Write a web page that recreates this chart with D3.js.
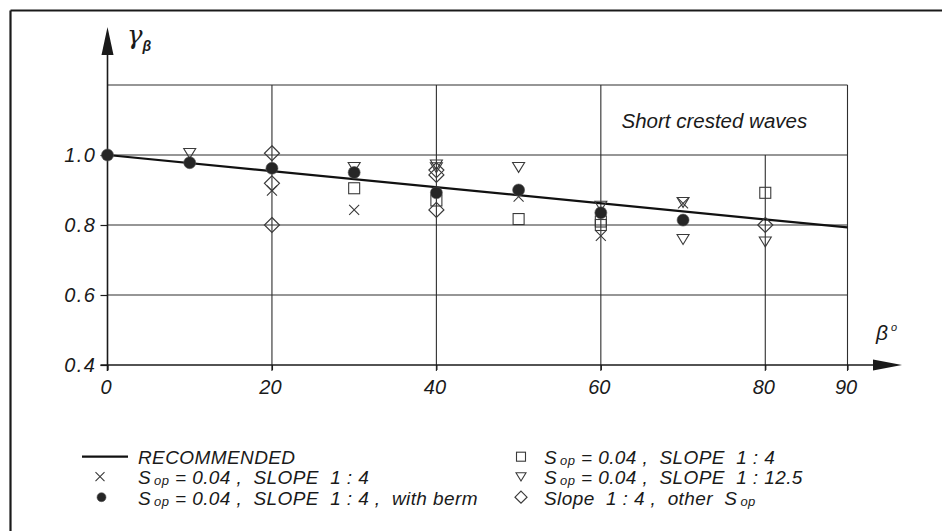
<!DOCTYPE html>
<html><head><meta charset="utf-8">
<script src="https://cdn.jsdelivr.net/npm/d3@7"></script>
<style>
html,body{margin:0;padding:0;background:#fff;}
svg text{font-family:"Liberation Sans",Arial,sans-serif;font-style:italic;fill:#1a1a1a;white-space:pre;}
</style></head>
<body>
<svg id="c" width="942" height="531"></svg>
<script>
// ---- data ----
const xTicks = [0, 20, 40, 60, 80, 90];
const yTicks = [0.4, 0.6, 0.8, 1.0];
const yTickLabels = ["0.4", "0.6", "0.8", "1.0"];
const recommended = [[0, 1.0], [90, 0.793]];
const crossPts = [[20, 0.898], [30, 0.843], [50, 0.881], [60, 0.769], [70, 0.862]];
const bermPts = [[0, 1.0], [10, 0.978], [20, 0.962], [30, 0.95], [40, 0.892], [50, 0.90], [60, 0.835], [70, 0.814]];
const squarePts = [[30, 0.905], [40, 0.87], [50, 0.817], [60, 0.81], [60, 0.80], [80, 0.892]];
const trianglePts = [[10, 1.005], [30, 0.965], [40, 0.972], [40, 0.964], [50, 0.965], [60, 0.854], [70, 0.865], [70, 0.759], [80, 0.752]];
const diamondPts = [[20, 1.005], [20, 0.919], [20, 0.80], [40, 0.957], [40, 0.943], [40, 0.843], [80, 0.80]];
const boxLabel = "Short crested waves";
const legendLeft = [
  [["RECOMMENDED"]],
  [["S"], ["op", 1], [" = 0.04 ,  SLOPE  1 : 4"]],
  [["S"], ["op", 1], [" = 0.04 ,  SLOPE  1 : 4 ,  with berm"]]
];
const legendRight = [
  [["S"], ["op", 1], [" = 0.04 ,  SLOPE  1 : 4"]],
  [["S"], ["op", 1], [" = 0.04 ,  SLOPE  1 : 12.5"]],
  [["Slope  1 : 4 ,  other  S"], ["op", 1]]
];

// ---- drawing ----
const svg = d3.select("#c");
const x = d3.scaleLinear().domain([0, 90]).range([107.5, 847.5]);
const y = d3.scaleLinear().domain([0.4, 1.2]).range([365, 85]);
const ink = "#1a1a1a", grid = "#2e2e2e";

// frame (top and left only)
svg.append("line").attr("x1", 10.5).attr("x2", 942).attr("y1", 10.5).attr("y2", 10.5).attr("stroke", ink).attr("stroke-width", 2.2);
svg.append("line").attr("x1", 10.5).attr("x2", 10.5).attr("y1", 10.5).attr("y2", 531).attr("stroke", ink).attr("stroke-width", 2.2);

const g = svg.append("g");
[0.6, 0.8, 1.0, 1.2].forEach(v => {
  g.append("line").attr("x1", x(0)).attr("x2", x(90)).attr("y1", y(v)).attr("y2", y(v))
    .attr("stroke", grid).attr("stroke-width", 1.1);
});
[20, 40, 60, 80, 90].forEach(v => {
  g.append("line").attr("x1", x(v)).attr("x2", x(v))
    .attr("y1", v === 80 ? y(1.0) : y(1.2)).attr("y2", y(0.4) + 6)
    .attr("stroke", grid).attr("stroke-width", 1.1);
});

// axes
const xAxis = d3.axisBottom(x).tickValues(xTicks).tickSize(5).tickPadding(12).tickFormat(d3.format("d"));
const xa = svg.append("g").attr("transform", `translate(0,${y(0.4)})`).call(xAxis);
xa.select(".domain").remove();
xa.selectAll(".tick line").attr("stroke", ink).attr("stroke-width", 1.2);
xa.selectAll(".tick text").attr("font-size", 20).attr("fill", ink).attr("dx", -2).attr("dy", "0.6em")
  .style("font-family", '"Liberation Sans",Arial,sans-serif').style("font-style", "italic");

const yAxis = d3.axisLeft(y).tickValues(yTicks).tickSize(7).tickPadding(4).tickFormat((d, i) => yTickLabels[i]);
const ya = svg.append("g").attr("transform", `translate(${x(0)},0)`).call(yAxis);
ya.select(".domain").remove();
ya.selectAll(".tick line").attr("stroke", ink).attr("stroke-width", 1.2);
ya.selectAll(".tick text").attr("font-size", 20).attr("fill", ink).attr("letter-spacing", 1.5)
  .style("font-family", '"Liberation Sans",Arial,sans-serif').style("font-style", "italic");

// main axis lines with arrows
svg.append("line").attr("x1", x(0) - 7).attr("x2", 880).attr("y1", y(0.4)).attr("y2", y(0.4)).attr("stroke", ink).attr("stroke-width", 1.6);
svg.append("path").attr("d", `M873,${y(0.4) - 5.5}L902,${y(0.4)}L873,${y(0.4) + 5.5}Z`).attr("fill", ink);
svg.append("line").attr("x1", x(0)).attr("x2", x(0)).attr("y1", y(0.4) + 6).attr("y2", 50).attr("stroke", ink).attr("stroke-width", 1.6);
svg.append("path").attr("d", `M${x(0) - 6},55L${x(0)},27L${x(0) + 6},55Z`).attr("fill", ink);

// axis titles
const yt = svg.append("text").attr("x", 127).attr("y", 44);
yt.append("tspan").text("γ").attr("font-size", 26).style("font-family", '"DejaVu Serif","Liberation Serif",serif');
yt.append("tspan").text("β").attr("font-size", 14).attr("font-weight", "bold").attr("dy", 7).attr("dx", 0);
const xt = svg.append("text").attr("x", 876).attr("y", 340);
xt.append("tspan").text("β").attr("font-size", 21);
xt.append("tspan").text("o").attr("font-size", 11).attr("dy", -9).attr("dx", 3);

// label box text
svg.append("text").attr("x", 621.5).attr("y", 127.5).attr("font-size", 20.5).text(boxLabel);

// recommended line
svg.append("path").datum(recommended)
  .attr("d", d3.line().x(d => x(d[0])).y(d => y(d[1])))
  .attr("stroke", "#111").attr("stroke-width", 2.2).attr("fill", "none");

// markers
const mk = "#3a3a3a";
function cross(sel, s) {
  sel.append("path").attr("d", `M${-s},${-s}L${s},${s}M${-s},${s}L${s},${-s}`).attr("stroke", mk).attr("stroke-width", 1.1).attr("fill", "none");
}
function square(sel, s) {
  sel.append("rect").attr("x", -s).attr("y", -s).attr("width", 2 * s).attr("height", 2 * s).attr("stroke", mk).attr("stroke-width", 1.1).attr("fill", "none");
}
function tri(sel, s) {
  sel.append("path").attr("d", `M${-s},${-s * 0.8}L${s},${-s * 0.8}L0,${s * 0.85}Z`).attr("stroke", mk).attr("stroke-width", 1.1).attr("fill", "none");
}
function diamond(sel, s) {
  sel.append("path").attr("d", `M0,${-s}L${s},0L0,${s}L${-s},0Z`).attr("stroke", mk).attr("stroke-width", 1.2).attr("fill", "none");
}
function dot(sel, r) {
  sel.append("circle").attr("r", r).attr("fill", "#262626").attr("stroke", "#555").attr("stroke-width", 0.6);
}
function plot(data, fn, s) {
  svg.append("g").selectAll("g").data(data).join("g")
    .attr("transform", d => `translate(${x(d[0])},${y(d[1])})`)
    .each(function () { fn(d3.select(this), s); });
}
plot(diamondPts, diamond, 7.5);
plot(squarePts, square, 5.5);
plot(trianglePts, tri, 6);
plot(crossPts, cross, 5);
plot(bermPts, dot, 6);

// legend
function legendText(parts, tx, ty) {
  const t = svg.append("text").attr("x", tx).attr("y", ty).attr("font-size", 19).attr("letter-spacing", 0.4);
  let shifted = false;
  parts.forEach(p => {
    const sp = t.append("tspan").text(p[0]);
    if (p[1]) { sp.attr("font-size", 13).attr("dy", 1.5).attr("dx", 3); shifted = true; }
    else if (shifted) { sp.attr("dy", -1.5); shifted = false; }
  });
}
const rows = [463.5, 483.5, 504.5];
legendLeft.forEach((p, i) => legendText(p, 138, rows[i]));
legendRight.forEach((p, i) => legendText(p, 544, rows[i]));
svg.append("line").attr("x1", 82).attr("x2", 128).attr("y1", 456.7).attr("y2", 456.7).attr("stroke", "#111").attr("stroke-width", 2.2);
const lg = (fn, s, cx, cy) => { const gg = svg.append("g").attr("transform", `translate(${cx},${cy})`); fn(gg, s); };
lg(cross, 4.5, 100, 476.7);
lg(dot, 4.5, 101.5, 497.2);
lg(square, 4.5, 521, 456.7);
lg(tri, 5, 521, 476.7);
lg(diamond, 6, 521, 497.2);
</script>
</body></html>
